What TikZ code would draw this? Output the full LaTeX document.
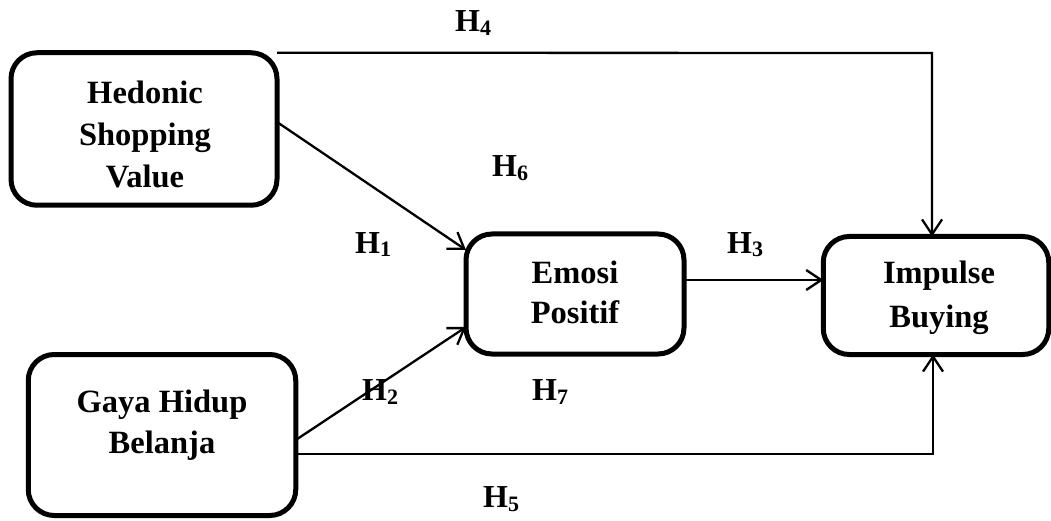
\documentclass[tikz,border=0pt]{standalone}
\usepackage{fontspec}
\setmainfont{Liberation Serif}
\usetikzlibrary{arrows.meta,calc}
\newcommand{\hyp}[1]{H\raisebox{-4pt}{\fontsize{22}{22}\selectfont #1}}
\begin{document}
\begin{tikzpicture}[x=1pt,y=-1pt,
  varbox/.style={draw=black,line width=5pt,rounded corners=26pt,inner sep=0pt,outer sep=0pt},
  boxtext/.style={align=center,inner sep=0pt,font=\bfseries},
  hlabel/.style={anchor=base west,inner sep=0pt,font=\fontsize{32}{32}\selectfont\bfseries},
  link/.style={line width=2.3pt,-{Straight Barb[length=15pt,width=20pt,line width=2.3pt]}}]
\useasboundingbox (0,0) rectangle (1051,521);
% boxes
\node[varbox,minimum width=266pt,minimum height=152.5pt] (hsv) at (144,129) {};
\node[varbox,minimum width=218pt,minimum height=120pt] (emo) at (575,294) {};
\node[varbox,minimum width=225.5pt,minimum height=118pt] (imp) at (936,295.5) {};
\node[varbox,minimum width=267.5pt,minimum height=161pt] (gay) at (162,435) {};
% box texts
\node[boxtext,font=\fontsize{32.5}{42}\selectfont\bfseries] (hsvT) at (145,134.7) {Hedonic\\Shopping\\Value};
\node[boxtext,font=\fontsize{32.5}{40}\selectfont\bfseries] (emoT) at (575,292.4) {Emosi\\Positif};
\node[boxtext,font=\fontsize{32.5}{44}\selectfont\bfseries] (impT) at (939,298) {Impulse\\Buying};
\node[boxtext,font=\fontsize{32.5}{41}\selectfont\bfseries] (gayT) at (162,425.2) {Gaya Hidup\\Belanja};
% connectors
\coordinate (c4) at (932,53);
\coordinate (c5) at (933,454);
\draw[link] ($(hsv.east)+(0,-7)$) -- ($(emo.west)+(0,-44)$);
\draw[link] ($(gay.east)+(0,5)$) -- ($(emo.west)+(0,33)$);
\draw[link] ($(emo.east)+(0,-14)$) -- ($(imp.west)+(0,-15.5)$);
\draw[link] (hsv.north east) -- (c4) -- (c4 |- imp.north);
\draw[link] ($(gay.east)+(0,19)$) -- (c5) -- (c5 |- imp.south);
% labels
\node[hlabel] (h4) at (455,32) {\hyp{4}};
\node[hlabel] (h6) at (492,177) {\hyp{6}};
\node[hlabel] (h1) at (355,253) {\hyp{1}};
\node[hlabel] (h3) at (727,253) {\hyp{3}};
\node[hlabel] (h2) at (362,400) {\hyp{2}};
\node[hlabel] (h7) at (532,400) {\hyp{7}};
\node[hlabel] (h5) at (483,507) {\hyp{5}};
\end{tikzpicture}
\end{document}
